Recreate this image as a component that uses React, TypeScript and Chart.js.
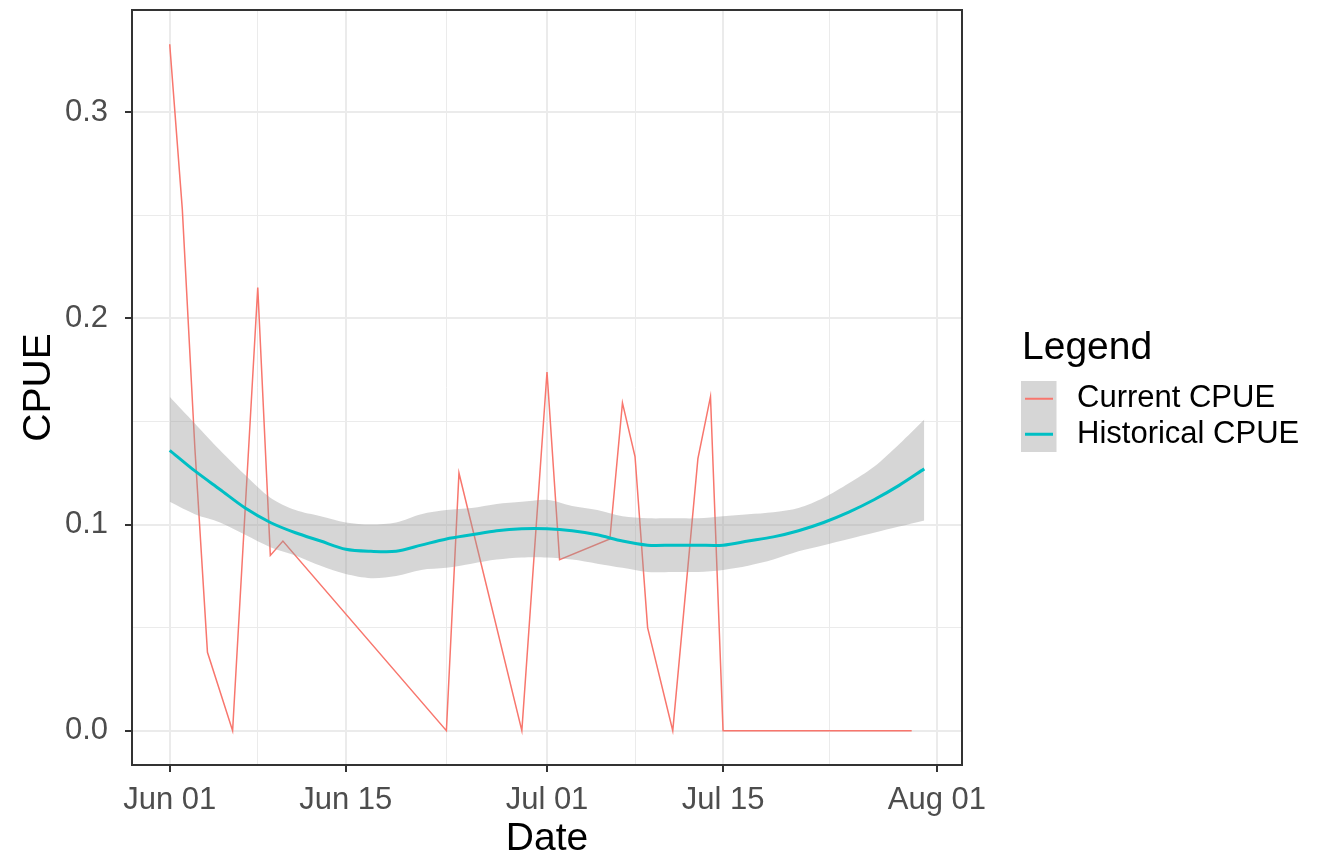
import React, { useEffect, useRef } from 'react';
import { Chart, registerables } from 'chart.js';

Chart.register(...registerables);

// Days since Jun 01
const currentDays = [0, 1, 2, 3, 5, 7, 8, 9, 22, 23, 28, 30, 31, 35, 36, 37, 38, 40, 42, 43, 44, 59];
const currentCPUE = [0.333, 0.253, 0.137, 0.038, 0, 0.215, 0.085, 0.092, 0, 0.125, 0, 0.174, 0.083, 0.093, 0.159, 0.133, 0.05, 0, 0.132, 0.162, 0, 0];

const historicalDays = [0, 2, 4, 6, 8, 10, 12, 14, 16, 18, 20, 22, 24, 26, 28, 30, 32, 34, 36, 38, 40, 42, 44, 46, 48, 50, 52, 54, 56, 58, 60];
const historicalCPUE = [0.136, 0.126, 0.117, 0.108, 0.101, 0.096, 0.092, 0.088, 0.087, 0.087, 0.09, 0.093, 0.095, 0.097, 0.098, 0.098, 0.097, 0.095, 0.092, 0.09, 0.09, 0.09, 0.09, 0.092, 0.094, 0.097, 0.101, 0.106, 0.112, 0.119, 0.127];
const historicalUpper = [0.162, 0.149, 0.136, 0.124, 0.113, 0.107, 0.104, 0.101, 0.1, 0.101, 0.105, 0.107, 0.108, 0.11, 0.111, 0.112, 0.109, 0.107, 0.104, 0.103, 0.103, 0.103, 0.104, 0.105, 0.106, 0.108, 0.113, 0.12, 0.128, 0.139, 0.151];
const historicalLower = [0.111, 0.105, 0.101, 0.095, 0.089, 0.085, 0.08, 0.076, 0.074, 0.075, 0.078, 0.079, 0.081, 0.083, 0.084, 0.084, 0.083, 0.081, 0.079, 0.077, 0.077, 0.077, 0.078, 0.08, 0.083, 0.087, 0.09, 0.093, 0.096, 0.099, 0.102];

const xTickDays = [0, 14, 30, 44, 61];
const xTickLabels = ['Jun 01', 'Jun 15', 'Jul 01', 'Jul 15', 'Aug 01'];
const xMinorDays = [7, 22, 37, 52.5];
const yTickValues = [0, 0.1, 0.2, 0.3];
const yTickLabels = ['0.0', '0.1', '0.2', '0.3'];
const yMinorValues = [0.05, 0.15, 0.25];

const seriesNames = ['Current CPUE', 'Historical CPUE'];
const RED = '#F8766D';
const BLUE = '#00BFC4';
const RIBBON = 'rgba(153,153,153,0.4)';
const FONT = '"Liberation Sans", Arial, Helvetica, sans-serif';

const toXY = (xs: number[], ys: number[]) => xs.map((x, i) => ({ x, y: ys[i] }));

const ggPlugin = {
  id: 'ggDecor',
  afterDatasetsDraw(chart: any) {
    const { ctx, chartArea: a } = chart;
    ctx.save();
    ctx.strokeStyle = '#333333';
    ctx.lineWidth = 2;
    ctx.strokeRect(a.left, a.top, a.right - a.left, a.bottom - a.top);
    ctx.restore();
  },
  afterDraw(chart: any) {
    const { ctx, chartArea: a } = chart;
    const cy = (a.top + a.bottom) / 2;
    const lx = a.right + 60;
    ctx.save();
    ctx.fillStyle = '#000000';
    ctx.font = `39px ${FONT}`;
    ctx.textBaseline = 'alphabetic';
    ctx.textAlign = 'left';
    ctx.fillText('Legend', lx, cy - 28.5);
    const keyTop = cy - 6.5;
    const keyH = 35.5;
    const keyW = 35.5;
    ctx.fillStyle = RIBBON;
    ctx.fillRect(lx - 1, keyTop, keyW, keyH * 2);
    const colors = [RED, BLUE];
    const widths = [2, 3];
    ctx.font = `31px ${FONT}`;
    ctx.textBaseline = 'middle';
    seriesNames.forEach((name, i) => {
      const ky = keyTop + keyH * i + keyH / 2;
      ctx.strokeStyle = colors[i];
      ctx.lineWidth = widths[i];
      ctx.beginPath();
      ctx.moveTo(lx + 3, ky);
      ctx.lineTo(lx + 31, ky);
      ctx.stroke();
      ctx.fillStyle = '#000000';
      ctx.fillText(name, lx + 55, ky);
    });
    ctx.restore();
  },
};

export default function App() {
  const canvasRef = useRef<HTMLCanvasElement | null>(null);

  useEffect(() => {
    if (!canvasRef.current) return;
    const isMajorX = (v: number) => xTickDays.includes(v);
    const isMajorY = (v: number) => yTickValues.some((t) => Math.abs(t - v) < 1e-9);

    const chart = new Chart(canvasRef.current, {
      type: 'line',
      data: {
        datasets: [
          {
            label: seriesNames[1],
            data: toXY(historicalDays, historicalCPUE),
            borderColor: BLUE,
            borderWidth: 3,
            pointRadius: 0,
            tension: 0.3,
            fill: false,
          },
          {
            label: 'upper',
            data: toXY(historicalDays, historicalUpper),
            borderWidth: 0,
            borderColor: 'rgba(0,0,0,0)',
            backgroundColor: RIBBON,
            pointRadius: 0,
            tension: 0.3,
            fill: '+1',
          },
          {
            label: 'lower',
            data: toXY(historicalDays, historicalLower),
            borderWidth: 0,
            borderColor: 'rgba(0,0,0,0)',
            pointRadius: 0,
            tension: 0.3,
            fill: false,
          },
          {
            label: seriesNames[0],
            data: toXY(currentDays, currentCPUE),
            borderColor: RED,
            borderWidth: 1.5,
            pointRadius: 0,
            tension: 0,
            fill: false,
          },
        ],
      },
      options: {
        animation: false,
        responsive: false,
        devicePixelRatio: 1,
        layout: { padding: { top: 10, right: 360, bottom: 0, left: 0 } },
        plugins: {
          legend: { display: false },
          tooltip: { enabled: false },
          title: { display: false },
        },
        scales: {
          x: {
            type: 'linear',
            min: -3,
            max: 63,
            afterBuildTicks: (s: any) => {
              s.ticks = [...xTickDays, ...xMinorDays].sort((a, b) => a - b).map((v) => ({ value: v }));
            },
            afterFit: (s: any) => {
              s.height = 98;
              s.paddingLeft = 0;
              s.paddingRight = 0;
              s.paddingTop = 0;
              s.paddingBottom = 0;
            },
            ticks: {
              autoSkip: false,
              maxRotation: 0,
              minRotation: 0,
              padding: 10,
              color: '#4D4D4D',
              font: { family: FONT, size: 31 },
              callback: (v: any) => {
                const i = xTickDays.indexOf(Number(v));
                return i >= 0 ? xTickLabels[i] : '';
              },
            },
            grid: {
              color: '#EBEBEB',
              lineWidth: (c: any) => (c.tick && isMajorX(c.tick.value) ? 2 : 1),
              tickColor: (c: any) => (c.tick && isMajorX(c.tick.value) ? '#333333' : 'rgba(0,0,0,0)'),
              tickWidth: 2,
              tickLength: 7,
              drawTicks: true,
            },
            border: { display: false },
            title: {
              display: true,
              text: 'Date',
              color: '#000000',
              font: { family: FONT, size: 39, lineHeight: 1 },
              padding: { top: 0, bottom: 4 },
            },
          },
          y: {
            type: 'linear',
            min: -0.01665,
            max: 0.3496,
            afterBuildTicks: (s: any) => {
              s.ticks = [...yTickValues, ...yMinorValues].sort((a, b) => a - b).map((v) => ({ value: v }));
            },
            afterFit: (s: any) => {
              s.width = 132;
              s.paddingLeft = 0;
              s.paddingRight = 0;
              s.paddingTop = 0;
              s.paddingBottom = 0;
            },
            ticks: {
              autoSkip: false,
              padding: 17,
              color: '#4D4D4D',
              font: { family: FONT, size: 31 },
              callback: (v: any) => {
                const i = yTickValues.findIndex((t) => Math.abs(t - Number(v)) < 1e-9);
                return i >= 0 ? yTickLabels[i] : '';
              },
            },
            grid: {
              color: '#EBEBEB',
              lineWidth: (c: any) => (c.tick && isMajorY(c.tick.value) ? 2 : 1),
              tickColor: (c: any) => (c.tick && isMajorY(c.tick.value) ? '#333333' : 'rgba(0,0,0,0)'),
              tickWidth: 2,
              tickLength: 7,
              drawTicks: true,
            },
            border: { display: false },
            title: {
              display: true,
              text: 'CPUE',
              color: '#000000',
              font: { family: FONT, size: 39, lineHeight: 1 },
              padding: { top: 20, bottom: 0 },
            },
          },
        },
      },
      plugins: [ggPlugin],
    } as any);

    return () => chart.destroy();
  }, []);

  return (
    <div style={{ position: 'fixed', left: 0, top: 0, width: 1322, height: 863, background: '#ffffff' }}>
      <canvas ref={canvasRef} width={1322} height={863} style={{ display: 'block', width: 1322, height: 863 }} />
    </div>
  );
}
